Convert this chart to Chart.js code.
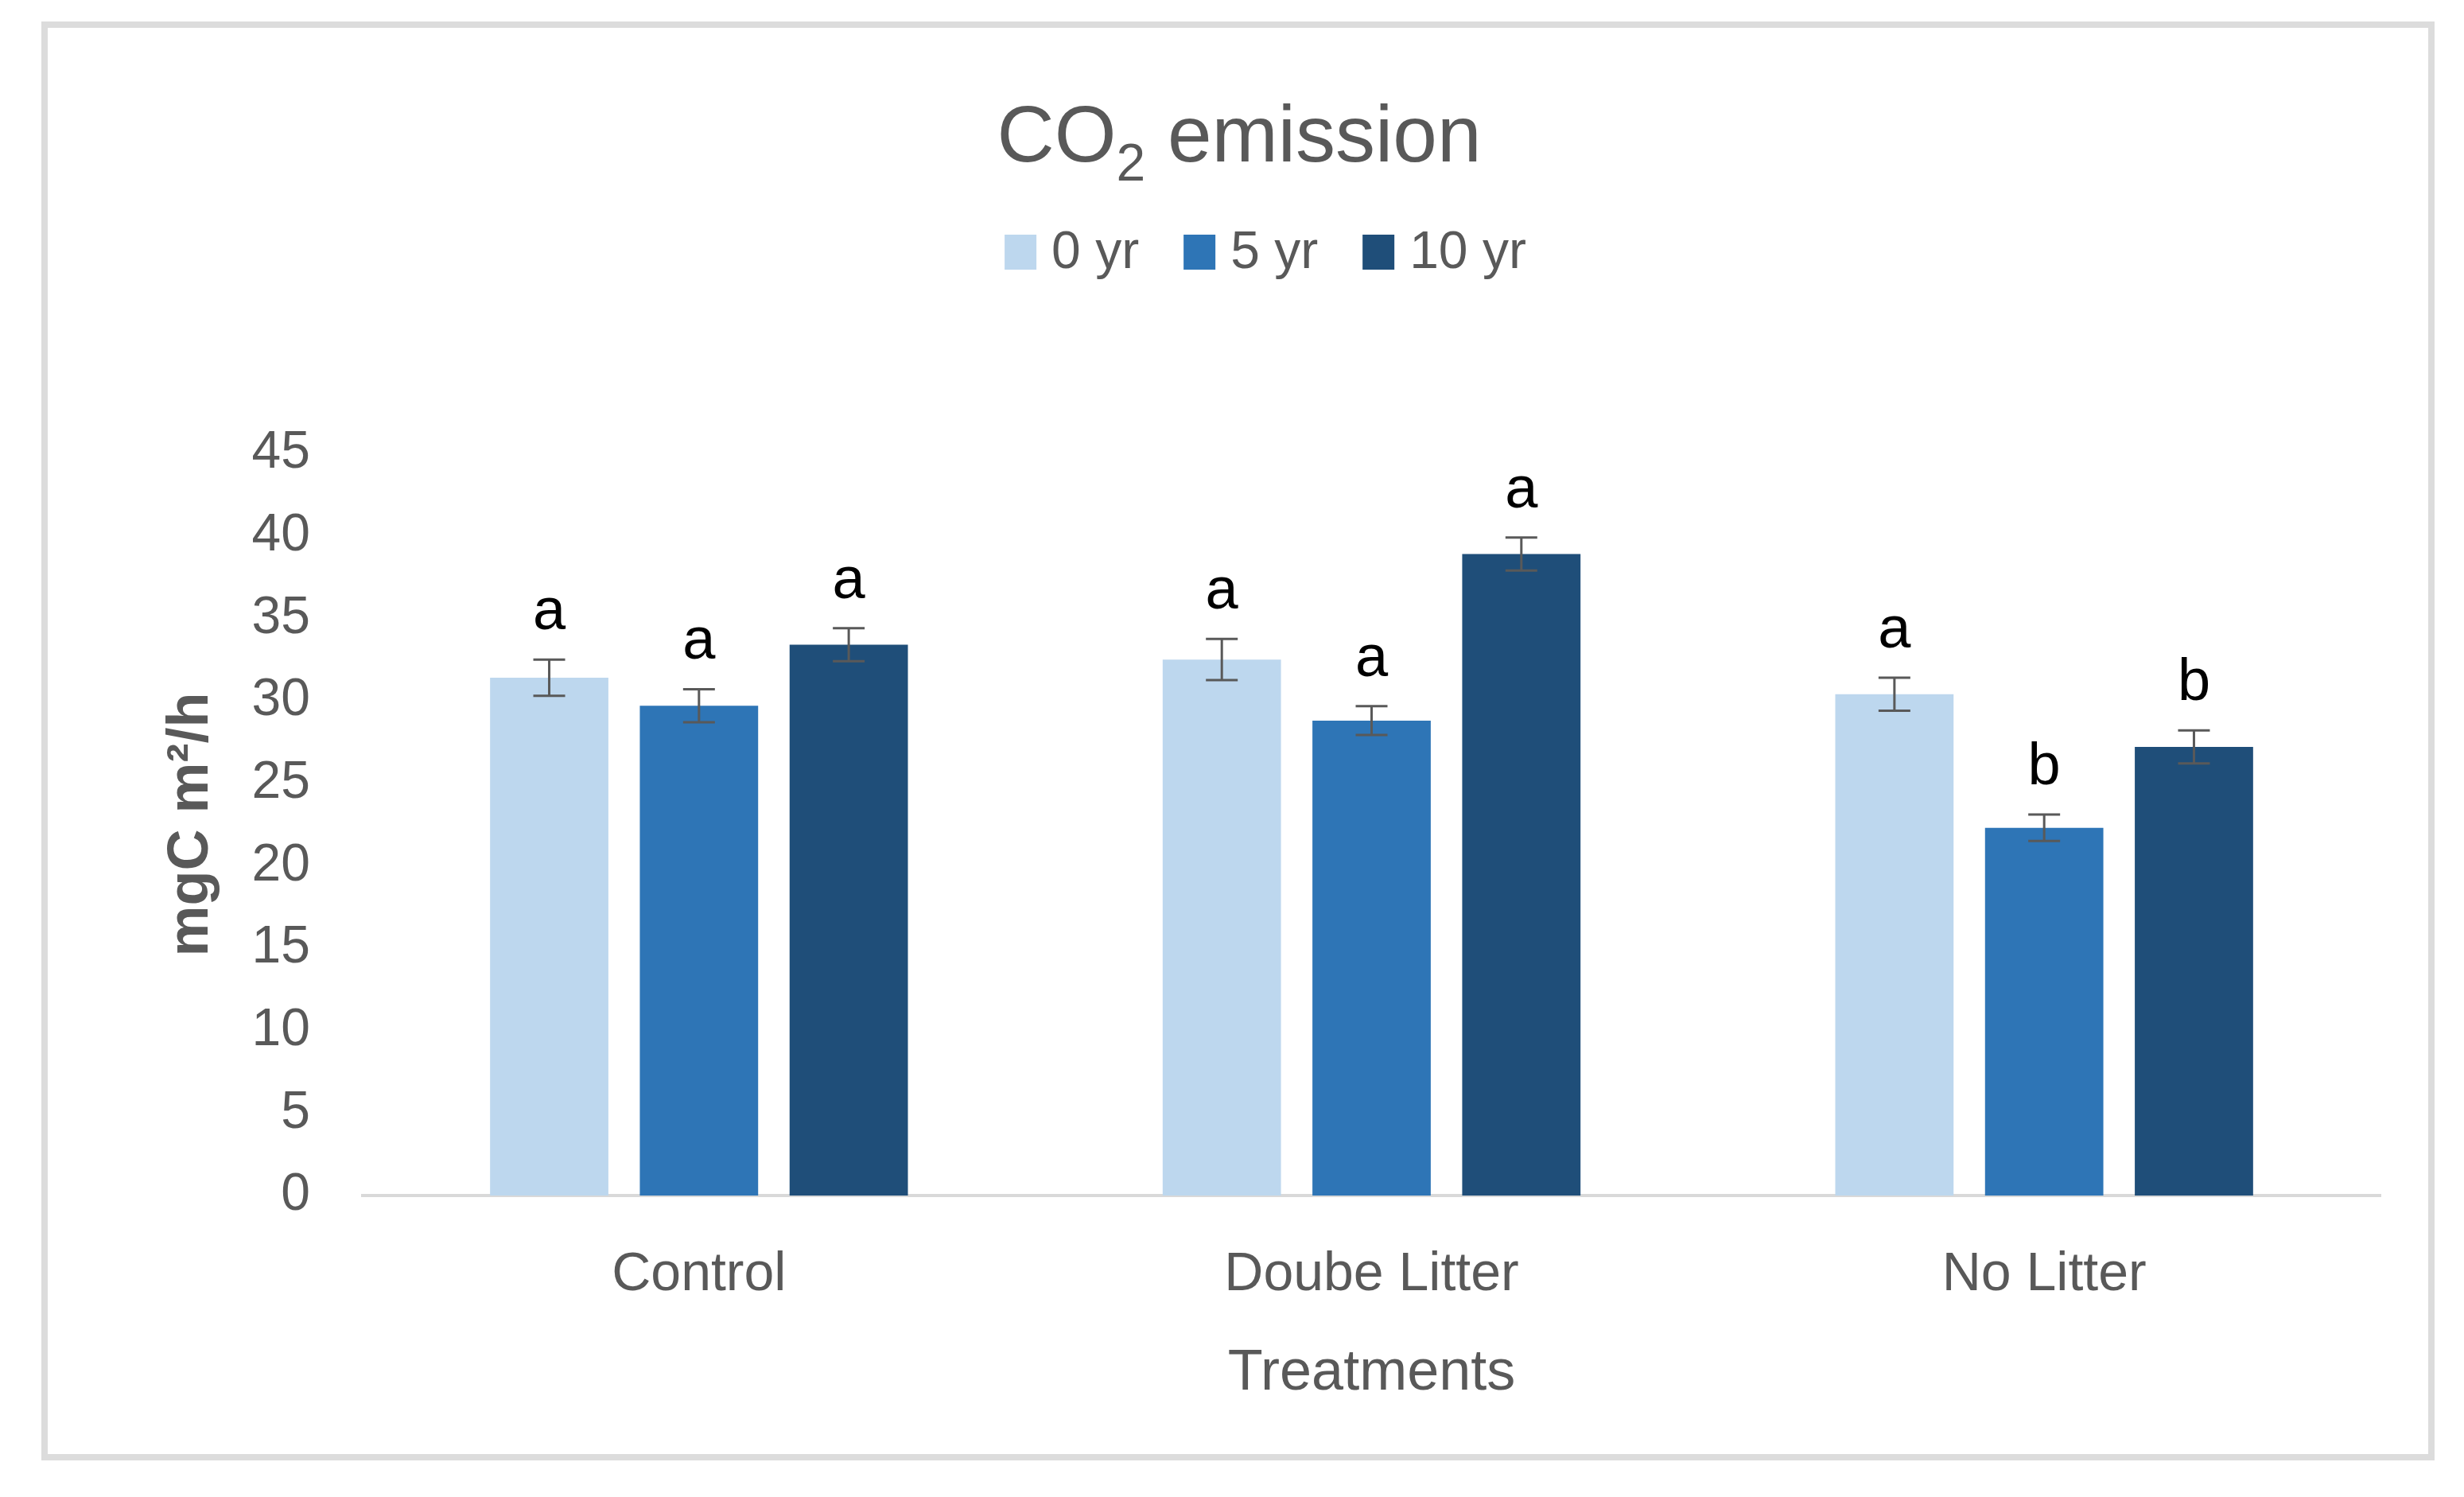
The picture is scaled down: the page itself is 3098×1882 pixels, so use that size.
<!DOCTYPE html>
<html lang="en">
<head>
<meta charset="UTF-8">
<title>CO2 emission</title>
<script src="https://cdn.jsdelivr.net/npm/chart.js"></script>
<style>
  html, body { margin: 0; padding: 0; background: #fff; overflow: hidden; }
  #chart { display: block; }
</style>
</head>
<body>
<canvas id="chart" width="3098" height="1882"></canvas>
<script>
// values
const treatments = ['Control', 'Doube Litter', 'No Litter'];
const seriesNames = ['0 yr', '5 yr', '10 yr'];
const seriesColors = ['#BDD7EE', '#2E75B6', '#1F4E79'];
const yr0 = [31.4, 32.5, 30.4];
const yr5 = [29.7, 28.8, 22.3];
const yr10 = [33.4, 38.9, 27.2];
const yr0Err = [1.1, 1.25, 1.0];
const yr5Err = [1.0, 0.87, 0.8];
const yr10Err = [1.0, 1.0, 1.0];
const yr0Sig = ['a', 'a', 'a'];
const yr5Sig = ['a', 'a', 'b'];
const yr10Sig = ['a', 'a', 'b'];
const yMin = 0, yMax = 45, yStep = 5;

const FONT = "'Liberation Sans', Arial, sans-serif";
const GREY = '#595959';

const seriesValues = [yr0, yr5, yr10];
const seriesErr = [yr0Err, yr5Err, yr10Err];
const seriesSig = [yr0Sig, yr5Sig, yr10Sig];

// outer frame
const framePlugin = {
    id: 'frame',
    beforeDraw(chart) {
        const ctx = chart.ctx;
        ctx.save();
        ctx.fillStyle = '#fff';
        ctx.fillRect(0, 0, chart.width, chart.height);
        ctx.strokeStyle = '#dcdcdc';
        ctx.lineWidth = 8;
        ctx.strokeRect(56, 31, 3001, 1801);
        ctx.restore();
    }
};

// title with subscript and the legend row
const headerPlugin = {
    id: 'header',
    afterDraw(chart) {
        const ctx = chart.ctx;
        ctx.save();
        ctx.fillStyle = GREY;
        ctx.textBaseline = 'alphabetic';
        const big = '100px ' + FONT, small = '66px ' + FONT;
        ctx.font = big;
        const w1 = ctx.measureText('CO').width;
        const w3 = ctx.measureText(' emission').width;
        ctx.font = small;
        const w2 = ctx.measureText('2').width;
        let x = 1558 - (w1 + w2 + w3) / 2;
        const base = 203;
        ctx.textAlign = 'left';
        ctx.font = big;
        ctx.fillText('CO', x, base);
        x += w1;
        ctx.font = small;
        ctx.fillText('2', x, base + 24);
        x += w2;
        ctx.font = big;
        ctx.fillText(' emission', x, base);

        // legend
        ctx.font = '66px ' + FONT;
        ctx.textBaseline = 'middle';
        const boxW = 40, boxH = 44, gapText = 19, gapItem = 56;
        const widths = seriesNames.map(n => ctx.measureText(n).width);
        let total = 0;
        widths.forEach((w, i) => { total += boxW + gapText + w + (i < widths.length - 1 ? gapItem : 0); });
        let lx = 1591 - total / 2;
        const ly = 317;
        seriesNames.forEach((n, i) => {
            ctx.fillStyle = seriesColors[i];
            ctx.fillRect(lx, ly - boxH / 2, boxW, boxH);
            ctx.fillStyle = GREY;
            ctx.fillText(n, lx + boxW + gapText, ly + 2);
            lx += boxW + gapText + widths[i] + gapItem;
        });
        ctx.restore();
    }
};

// error bars and significance letters
const errorPlugin = {
    id: 'errorBars',
    afterDatasetsDraw(chart) {
        const ctx = chart.ctx;
        const y = chart.scales.y;
        ctx.save();
        chart.data.datasets.forEach((ds, di) => {
            const meta = chart.getDatasetMeta(di);
            meta.data.forEach((bar, i) => {
                const v = seriesValues[di][i];
                const e = seriesErr[di][i];
                const top = y.getPixelForValue(v + e);
                const bot = y.getPixelForValue(v - e);
                ctx.strokeStyle = GREY;
                ctx.lineWidth = 3;
                ctx.beginPath();
                ctx.moveTo(bar.x, top); ctx.lineTo(bar.x, bot);
                ctx.moveTo(bar.x - 20, top); ctx.lineTo(bar.x + 20, top);
                ctx.moveTo(bar.x - 20, bot); ctx.lineTo(bar.x + 20, bot);
                ctx.stroke();
                ctx.fillStyle = '#000';
                ctx.font = '74px ' + FONT;
                ctx.textAlign = 'center';
                ctx.textBaseline = 'alphabetic';
                ctx.fillText(seriesSig[di][i], bar.x, top - 38);
            });
        });
        ctx.restore();
    }
};

new Chart(document.getElementById('chart'), {
    type: 'bar',
    data: {
        labels: treatments,
        datasets: seriesNames.map((n, i) => ({
            label: n,
            data: seriesValues[i],
            backgroundColor: seriesColors[i],
            borderWidth: 0,
            categoryPercentage: 0.668,
            barPercentage: 0.79
        }))
    },
    options: {
        responsive: false,
        animation: false,
        devicePixelRatio: 1,
        layout: { padding: { top: 570, left: 0, right: 105, bottom: 79 } },
        plugins: {
            legend: { display: false },
            title: { display: false },
            tooltip: { enabled: false }
        },
        scales: {
            x: {
                grid: { display: false, drawTicks: false },
                border: { display: true, color: '#d9d9d9', width: 4 },
                ticks: { color: GREY, font: { family: FONT, size: 68 }, padding: 59 },
                title: {
                    display: true, text: 'Treatments', color: GREY,
                    font: { family: FONT, size: 72 }, padding: { top: 0, bottom: 33 }
                },
                afterFit(scale) { scale.height = 300; }
            },
            y: {
                min: yMin, max: yMax,
                grid: { display: false, drawTicks: false },
                border: { display: false },
                ticks: { stepSize: yStep, color: GREY, font: { family: FONT, size: 66 }, padding: 66 },
                title: {
                    display: true, text: 'mgC m²/h', color: GREY,
                    font: { family: FONT, size: 72, weight: 'bold' }, padding: { top: 198, bottom: 0 }
                },
                afterFit(scale) { scale.width = 456; }
            }
        }
    },
    plugins: [framePlugin, headerPlugin, errorPlugin]
});
</script>
</body>
</html>
